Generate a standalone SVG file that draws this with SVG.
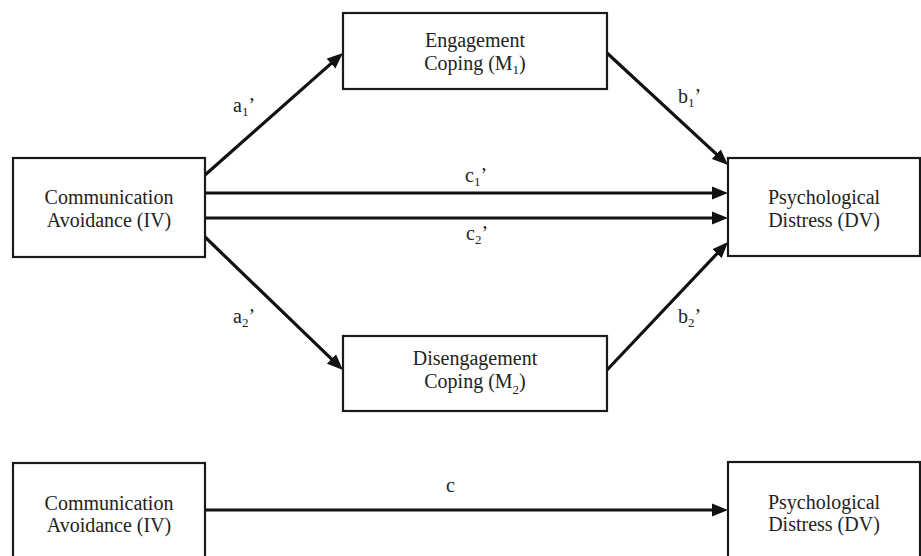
<svg xmlns="http://www.w3.org/2000/svg" width="921" height="556" viewBox="0 0 921 556">
<style>
.box{fill:#fff;stroke:#1a1a1a;stroke-width:2.2}
.t{font-family:"Liberation Serif","Times New Roman",serif;font-size:20px;fill:#222;text-anchor:middle}
.l{font-family:"Liberation Serif","Times New Roman",serif;font-size:20px;fill:#222}
.sub{font-size:13px}
.e{stroke:#111;stroke-width:3.2;fill:none;marker-end:url(#ah)}
</style>
<defs>
<marker id="ah" markerUnits="userSpaceOnUse" markerWidth="18" markerHeight="14" refX="6" refY="6.5" orient="auto" viewBox="0 0 18 13">
<path d="M0,0 L16,6.5 L0,13 z" fill="#111"/>
</marker>
</defs>
<rect width="921" height="556" fill="#fff"/>
<g id="edges">
<line class="e" x1="205" y1="175" x2="335.5" y2="59.6"/>
<line class="e" x1="205" y1="237" x2="335.8" y2="363.1"/>
<line class="e" x1="607" y1="53" x2="720.7" y2="158.2"/>
<line class="e" x1="607" y1="370" x2="721.1" y2="249.3"/>
<line class="e" x1="205" y1="193" x2="718" y2="193"/>
<line class="e" x1="205" y1="218" x2="718" y2="218"/>
<line class="e" x1="205" y1="510" x2="718" y2="510"/>
</g>
<g id="labels">
<text class="l" x="233" y="112">a<tspan class="sub" dy="4">1</tspan><tspan dy="-4">’</tspan></text>
<text class="l" x="233" y="323">a<tspan class="sub" dy="4">2</tspan><tspan dy="-4">’</tspan></text>
<text class="l" x="678" y="103">b<tspan class="sub" dy="4">1</tspan><tspan dy="-4">’</tspan></text>
<text class="l" x="678" y="323">b<tspan class="sub" dy="4">2</tspan><tspan dy="-4">’</tspan></text>
<text class="l" x="465" y="182">c<tspan class="sub" dy="4">1</tspan><tspan dy="-4">’</tspan></text>
<text class="l" x="466" y="240">c<tspan class="sub" dy="4">2</tspan><tspan dy="-4">’</tspan></text>
<text class="l" x="446" y="492">c</text>
</g>
<g id="iv">
<rect class="box" x="13" y="158" width="192" height="99"/>
<text class="t" x="109" y="204">Communication</text>
<text class="t" x="109" y="227">Avoidance (IV)</text>
</g>
<g id="m1">
<rect class="box" x="343" y="13" width="264" height="76"/>
<text class="t" x="475" y="47">Engagement</text>
<text class="t" x="475" y="70">Coping (M<tspan class="sub" dy="4">1</tspan><tspan dy="-4">)</tspan></text>
</g>
<g id="m2">
<rect class="box" x="343" y="336" width="264" height="75"/>
<text class="t" x="475" y="365">Disengagement</text>
<text class="t" x="475" y="388">Coping (M<tspan class="sub" dy="6">2</tspan><tspan dy="-6">)</tspan></text>
</g>
<g id="dv">
<rect class="box" x="728" y="158" width="192" height="98"/>
<text class="t" x="824" y="204">Psychological</text>
<text class="t" x="824" y="227">Distress (DV)</text>
</g>
<g id="iv2">
<rect class="box" x="13" y="463" width="192" height="100"/>
<text class="t" x="109" y="510">Communication</text>
<text class="t" x="109" y="532">Avoidance (IV)</text>
</g>
<g id="dv2">
<rect class="box" x="728" y="462" width="192" height="100"/>
<text class="t" x="824" y="509">Psychological</text>
<text class="t" x="824" y="531">Distress (DV)</text>
</g>
</svg>
